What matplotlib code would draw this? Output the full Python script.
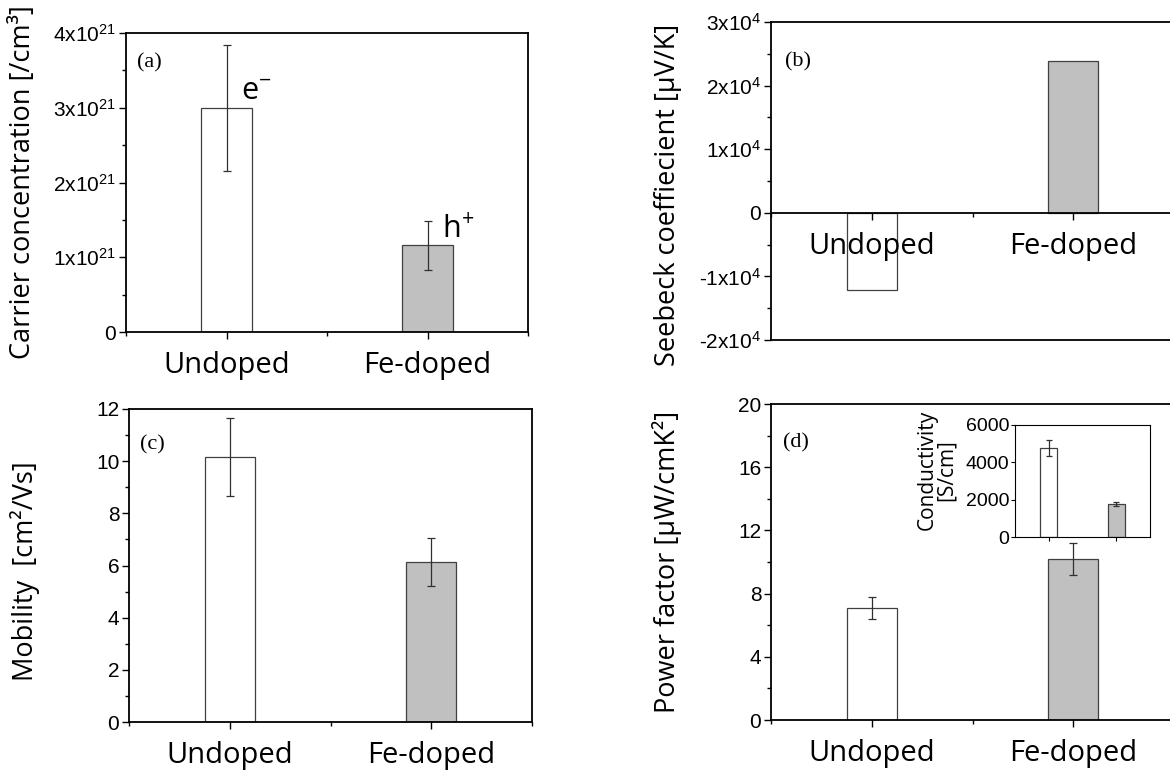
import matplotlib
matplotlib.use('Agg')
import matplotlib.pyplot as plt
from matplotlib.ticker import MultipleLocator, FixedLocator, FuncFormatter, NullFormatter

# ---------------- data ----------------
categories = ['Undoped', 'Fe-doped']
carrier = [3.00e21, 1.16e21]
carrier_err = [0.84e21, 0.33e21]
carrier_type = ['e$^{-}$', 'h$^{+}$']
seebeck = [-1.22e4, 2.38e4]
mobility = [10.16, 6.14]
mobility_err = [1.50, 0.92]
power_factor = [7.08, 10.20]
power_factor_err = [0.71, 1.02]
conductivity = [4750, 1770]
conductivity_err = [430, 110]
bar_colors = ['white', '#c0c0c0']

plt.rcParams['mathtext.default'] = 'regular'
TICK_FONT = 'Liberation Sans'
LABEL_FONT = ['Open Sans', 'DejaVu Sans']
SERIF = 'Liberation Serif'

fig = plt.figure(figsize=(11.70, 7.71), dpi=100)

xpos = [1, 2]


def sci_fmt(exp):
    def f(v, pos):
        if abs(v) < 1e-12:
            return '0'
        m = v / 10 ** exp
        return '%dx10$^{%d}$' % (round(m), exp)
    return FuncFormatter(f)


def set_tick_fonts(ax):
    for lab in ax.get_yticklabels():
        lab.set_fontsize(15)
        lab.set_family(TICK_FONT)
    for lab in ax.get_xticklabels():
        lab.set_fontsize(21)
        lab.set_family(LABEL_FONT)


def style(ax, ylim, major, minor, ylabel, letter, letter_xy, label_y=0.5):
    ax.set_axisbelow(False)
    ax.set_xlim(0.5, 2.5)
    ax.set_ylim(*ylim)
    ax.xaxis.set_major_locator(FixedLocator(xpos))
    ax.xaxis.set_minor_locator(FixedLocator([0.5, 1.5, 2.5]))
    ax.set_xticklabels(categories)
    ax.yaxis.set_major_locator(MultipleLocator(major))
    ax.yaxis.set_minor_locator(MultipleLocator(minor))
    ax.tick_params(axis='both', which='major', direction='out', length=5, width=1.0,
                   top=False, right=False)
    ax.tick_params(axis='both', which='minor', direction='out', length=3, width=1.0,
                   top=False, right=False)
    ax.tick_params(axis='x', which='major', pad=9)
    ax.tick_params(axis='y', which='major', pad=2)
    for sp in ax.spines.values():
        sp.set_linewidth(1.3)
    ax.set_ylabel(ylabel, fontsize=19.5, family=LABEL_FONT)
    ax.yaxis.set_label_coords(-0.222, label_y)
    ax.text(letter_xy[0], letter_xy[1], letter, transform=ax.transAxes,
            fontsize=16, family=SERIF, ha='left', va='center')


def bars(ax, vals, errs=None, capsize=3):
    ax.bar(xpos, vals, width=0.25, color=bar_colors, edgecolor='#404040',
           linewidth=0.9, zorder=2)
    if errs is not None:
        ax.errorbar(xpos, vals, yerr=errs, fmt='none', ecolor='#303030',
                    elinewidth=0.9, capsize=capsize, capthick=0.9, zorder=3)


# (a) carrier concentration
axa = fig.add_axes([126 / 1170, 1 - 332 / 771, 402 / 1170, 299 / 771])
bars(axa, carrier, carrier_err)
style(axa, (0, 4e21), 1e21, 0.5e21, 'Carrier concentration [/cm³]', '(a)', (0.027, 0.90))
axa.yaxis.set_major_formatter(sci_fmt(21))
set_tick_fonts(axa)
for i, t in enumerate(carrier_type):
    axa.text(xpos[i] + 0.07, carrier[i] + 0.1e21, t, fontsize=22,
             family=LABEL_FONT, ha='left', va='baseline')

# (b) Seebeck coefficient
axb = fig.add_axes([771 / 1170, 1 - 340 / 771, 403 / 1170, 318 / 771])
bars(axb, seebeck)
style(axb, (-2e4, 3e4), 1e4, 0.5e4, 'Seebeck coeffiecient [μV/K]', '(b)', (0.035, 0.874),
      label_y=0.456)
axb.spines['bottom'].set_position(('data', 0))
axb.xaxis.set_major_locator(FixedLocator(xpos))
axb.xaxis.set_minor_locator(FixedLocator([0.5, 1.5, 2.5]))
axb.set_xticklabels(categories)
axb.tick_params(axis='x', which='major', direction='out', length=5, width=1.0, pad=9)
axb.tick_params(axis='x', which='minor', direction='out', length=3, width=1.0)
axb.yaxis.set_major_formatter(sci_fmt(4))
set_tick_fonts(axb)
axb.plot([0, 1], [0, 0], transform=axb.transAxes, color='black', lw=1.3,
         clip_on=False, zorder=4)

# (c) mobility
axc = fig.add_axes([129 / 1170, 1 - 722 / 771, 403 / 1170, 313 / 771])
bars(axc, mobility, mobility_err)
style(axc, (0, 12), 2, 1, 'Mobility  [cm²/Vs]', '(c)', (0.027, 0.885), label_y=0.482)
set_tick_fonts(axc)

# (d) power factor
axd = fig.add_axes([771 / 1170, 1 - 720 / 771, 403 / 1170, 316 / 771])
bars(axd, power_factor, power_factor_err)
style(axd, (0, 20), 4, 2, 'Power factor [μW/cmK²]', '(d)', (0.03, 0.877))
set_tick_fonts(axd)

# inset conductivity
axi = fig.add_axes([1015 / 1170, 1 - 537 / 771, 135 / 1170, 112 / 771])
bars(axi, conductivity, conductivity_err, capsize=2.5)
axi.set_axisbelow(False)
axi.set_xlim(0.5, 2.5)
axi.set_ylim(0, 6000)
axi.xaxis.set_major_locator(FixedLocator(xpos))
axi.xaxis.set_major_formatter(NullFormatter())
axi.yaxis.set_major_locator(MultipleLocator(2000))
axi.tick_params(axis='both', which='major', direction='out', length=3, width=0.8,
                top=False, right=False, pad=1)
for lab in axi.get_yticklabels():
    lab.set_fontsize(14)
    lab.set_family(TICK_FONT)
for sp in axi.spines.values():
    sp.set_linewidth(0.8)
axi.set_ylabel('Conductivity\n[S/cm]', fontsize=15, family=LABEL_FONT, linespacing=0.9)
axi.yaxis.set_label_coords(-0.43, 0.6)

fig.savefig('out.png', dpi=100)
